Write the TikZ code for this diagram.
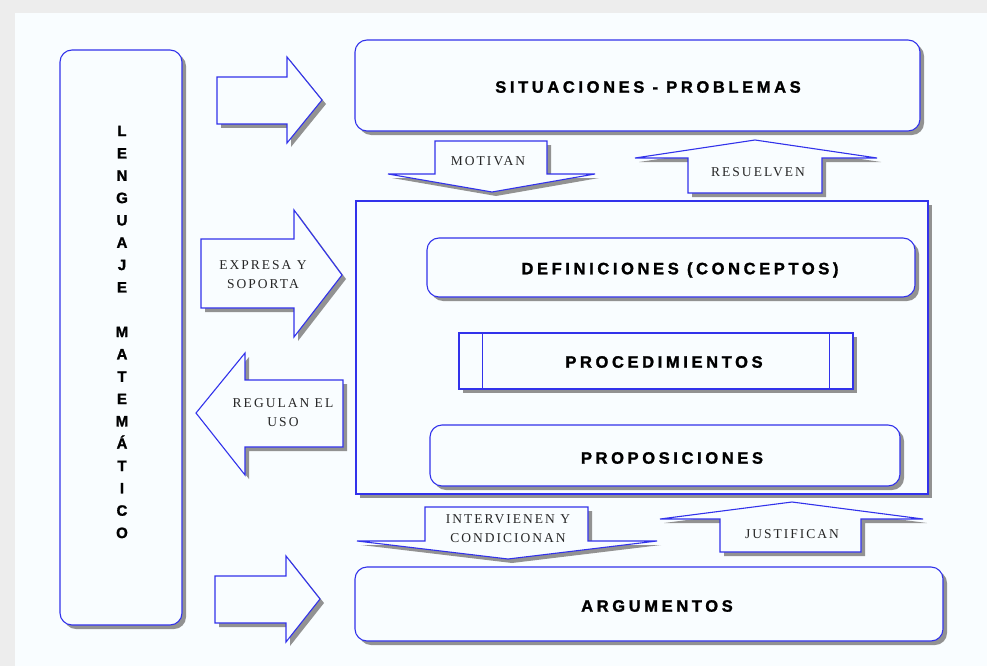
\documentclass[tikz,border=0pt]{standalone}
\usepackage{fontspec}
\setmainfont{Liberation Serif}
\newfontfamily\titlefont[LetterSpace=22, FakeBold=1.5]{Liberation Sans Bold}
\newfontfamily\letterfont[FakeBold=1.5]{Liberation Sans Bold}
\newfontfamily\arrowfont[LetterSpace=15]{Liberation Serif}
\usetikzlibrary{shadows}
\definecolor{lineblue}{RGB}{50,50,235}
\definecolor{paper}{RGB}{249,253,255}

\begin{document}
\begin{tikzpicture}[x=1pt, y=-1pt,
    every node/.style={inner sep=0pt},
    boxshadow/.style={drop shadow={shadow xshift=4pt, shadow yshift=-4pt, fill=black!50, opacity=.85}},
    roundbox/.style={draw=lineblue, line width=1.1pt, fill=paper, rounded corners=12pt, boxshadow},
    squarebox/.style={draw=lineblue, line width=1.1pt, fill=paper, boxshadow},
    blockarrow/.style={draw=lineblue, line width=1.1pt, fill=paper, line join=miter, boxshadow},
    title/.style={font=\titlefont\fontsize{16.5}{18}\selectfont},
    arrowtext/.style={font=\arrowfont\fontsize{13.5}{19}\selectfont, text=black!85, align=center}]

    \useasboundingbox (0,0) rectangle (987,666);
    \fill[black!7] (0,0) rectangle (987,666);
    \fill[paper] (15,13) rectangle (987,666);

    % left column
    \node[roundbox, minimum width=122pt, minimum height=575pt] (lenguaje) at (121,337.5) {};
    \node[font=\letterfont\fontsize{15}{22.33}\selectfont, align=center]
        (lenguajetxt) at (122,332) {L\\E\\N\\G\\U\\A\\J\\E\\[22.33pt]M\\A\\T\\E\\M\\Á\\T\\I\\C\\O};

    % right column boxes
    \node[roundbox, minimum width=565pt, minimum height=91pt] (situaciones) at (637.5,85.5) {};
    \node[title] (situacionestxt) at (648,87) {SITUACIONES - PROBLEMAS};

    \node[squarebox, minimum width=572pt, minimum height=293pt] (nucleo) at (642,347.5) {};

    \node[roundbox, minimum width=488pt, minimum height=59pt] (definiciones) at (671,267.5) {};
    \node[title] (definicionestxt) at (680,270) {DEFINICIONES (CONCEPTOS)};

    \node[squarebox, minimum width=394pt, minimum height=56pt] (procedimientos) at (656,361) {};
    \draw[lineblue, line width=1.1pt] ([xshift=24pt]procedimientos.north west) -- ([xshift=24pt]procedimientos.south west);
    \draw[lineblue, line width=1.1pt] ([xshift=-24pt]procedimientos.north east) -- ([xshift=-24pt]procedimientos.south east);
    \node[title] (procedimientostxt) at (664,362) {PROCEDIMIENTOS};

    \node[roundbox, minimum width=470pt, minimum height=61pt] (proposiciones) at (665,455.5) {};
    \node[title] (proposicionestxt) at (672,458) {PROPOSICIONES};

    \node[roundbox, minimum width=588pt, minimum height=74pt] (argumentos) at (649,604) {};
    \node[title] (argumentostxt) at (657,606) {ARGUMENTOS};

    % block arrows
    \draw[blockarrow] (217,77) -- (287,77) -- (287,57) -- (322,100) -- (287,143) -- (287,124) -- (217,124) -- cycle;
    \draw[blockarrow] (215,576) -- (286,576) -- (286,556) -- (320,599) -- (286,642) -- (286,623) -- (215,623) -- cycle;

    \draw[blockarrow] (201,239) -- (294,239) -- (294,210) -- (342,275) -- (294,337) -- (294,308) -- (201,308) -- cycle;
    \node[arrowtext] (expresa) at (263,275) {EXPRESA Y\\SOPORTA};

    \draw[blockarrow] (196,413) -- (245,353) -- (245,380) -- (343,380) -- (343,447) -- (245,447) -- (245,475) -- cycle;
    \node[arrowtext] (regulan) at (283,413) {REGULAN EL\\USO};

    \draw[blockarrow] (435,141) -- (547,141) -- (547,174) -- (595,174) -- (492,192) -- (388,174) -- (435,174) -- cycle;
    \node[arrowtext] (motivan) at (488,161) {MOTIVAN};

    \draw[blockarrow] (688,193) -- (822,193) -- (822,158) -- (877,158) -- (755,140) -- (635,158) -- (688,158) -- cycle;
    \node[arrowtext] (resuelven) at (758,172) {RESUELVEN};

    \draw[blockarrow] (425,507) -- (588,507) -- (588,541) -- (657,541) -- (508,559) -- (357,541) -- (425,541) -- cycle;
    \node[arrowtext] (intervienen) at (508,529) {INTERVIENEN Y\\CONDICIONAN};

    \draw[blockarrow] (720,552) -- (861,552) -- (861,519) -- (923,519) -- (792,502) -- (660,519) -- (720,519) -- cycle;
    \node[arrowtext] (justifican) at (792,534) {JUSTIFICAN};
\end{tikzpicture}
\end{document}
